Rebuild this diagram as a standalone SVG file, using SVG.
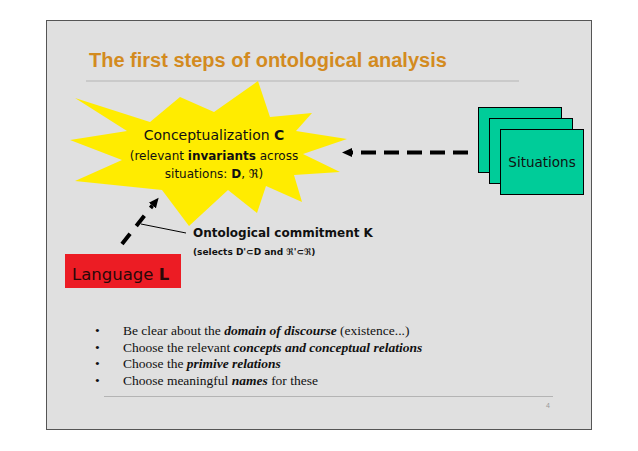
<svg xmlns="http://www.w3.org/2000/svg" width="638" height="451" viewBox="0 0 638 451">
<defs>
<style>
.comic{font-family:"Comic Sans MS","DejaVu Sans",sans-serif;fill:#111}
.b{font-weight:bold}
.serif{font-family:"Liberation Serif","Times New Roman",serif;font-size:13.5px;fill:#111}
.bi{font-weight:bold;font-style:italic}
.rule{stroke:#b4b4b4;stroke-width:1.2}
.dash{fill:none;stroke:#000;stroke-width:4}
.box{fill:#00cc99;stroke:#000;stroke-width:1}
</style>
<marker id="ah" markerUnits="userSpaceOnUse" markerWidth="11" markerHeight="10" refX="0" refY="5" orient="auto">
<path d="M0,0.5 L10,5 L0,9.5 z" fill="#000" stroke="none"/>
</marker>
</defs>
<rect width="638" height="451" fill="#fff"/>
<rect x="46.5" y="20.5" width="545" height="409" fill="#e0e0e0" stroke="#555" stroke-width="1"/>
<g id="title">
<text x="89" y="67" font-family="Liberation Sans, Arial, sans-serif" font-weight="bold" font-size="20" fill="#d38b1f">The first steps of ontological analysis</text>
<line class="rule" x1="86" y1="81" x2="519" y2="81"/>
</g>
<g id="conceptualization">
<polygon fill="#ffec00" points="258,81 270,117 312,113 296,131 347,139 303,154 340,172 294,175 302,202 266,186 257,213 228,190 189,226 162,190 75,181 122,160 70,140 127,131 75,98 150,122 180,97 214,112"/>
<text class="comic" x="214" y="140" font-size="14" text-anchor="middle">Conceptualization <tspan class="b">C</tspan></text>
<text class="comic" x="214" y="160" font-size="12" text-anchor="middle">(relevant <tspan class="b">invariants</tspan> across</text>
<text class="comic" x="214" y="178" font-size="12" text-anchor="middle">situations: <tspan class="b">D</tspan>, ℜ)</text>
</g>
<g id="situations">
<rect class="box" x="478.5" y="107.5" width="83" height="65"/>
<rect class="box" x="489.5" y="118.5" width="83" height="65"/>
<rect class="box" x="500.5" y="129.5" width="83" height="65"/>
<text class="comic" x="542" y="167" font-size="13.5" text-anchor="middle">Situations</text>
</g>
<g id="language">
<rect x="65" y="254" width="116" height="34" fill="#ec1c24"/>
<text class="comic" x="72" y="280" font-size="16.5" style="fill:#2a0808">Language <tspan class="b">L</tspan></text>
</g>
<g id="commitment">
<text class="comic b" x="193" y="237" font-size="12">Ontological commitment K</text>
<text class="comic b" x="193" y="255" font-size="9">(selects D'⊂D and ℜ'⊂ℜ)</text>
</g>
<g id="connectors">
<path class="dash" d="M468,152.5 L352,152.5" stroke-dasharray="15 8" marker-end="url(#ah)"/>
<path class="dash" d="M122,244 L152.4,205.6" stroke-dasharray="13 10" marker-end="url(#ah)"/>
<line x1="141" y1="224" x2="186" y2="233" stroke="#000" stroke-width="1"/>
</g>
<g id="bullets">
<g class="serif">
<text x="95" y="335">•</text>
<text x="123" y="335">Be clear about the <tspan class="bi">domain of discourse</tspan> (existence...)</text>
<text x="95" y="352">•</text>
<text x="123" y="352">Choose the relevant <tspan class="bi">concepts and conceptual relations</tspan></text>
<text x="95" y="368">•</text>
<text x="123" y="368">Choose the <tspan class="bi">primive relations</tspan></text>
<text x="95" y="385">•</text>
<text x="123" y="385">Choose meaningful <tspan class="bi">names</tspan> for these</text>
</g>
<line class="rule" x1="104" y1="396.5" x2="553" y2="396.5"/>
<text x="546" y="408" font-family="Liberation Sans, Arial, sans-serif" font-size="7" fill="#999">4</text>
</g>
</svg>
